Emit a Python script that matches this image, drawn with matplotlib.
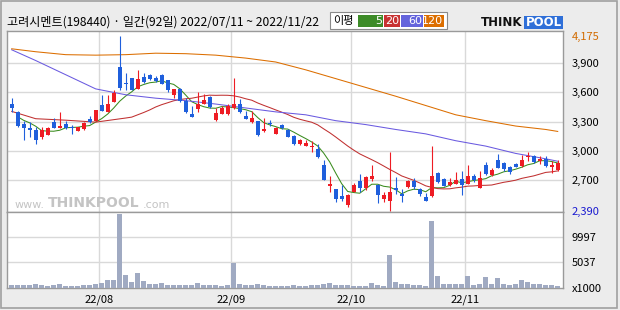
import matplotlib
matplotlib.use('Agg')
import matplotlib.pyplot as plt
from matplotlib.patches import Rectangle
import numpy as np
import pandas as pd

plt.rcParams['font.family'] = ['Noto Sans CJK KR', 'DejaVu Sans']

# 거래일 2022/07/11 ~ 2022/11/22 (휴장일 제외) -> 92일
holidays = ['2022-08-15', '2022-09-09', '2022-09-12', '2022-10-03', '2022-10-10']
dates = pd.bdate_range('2022-07-11', '2022-11-22')
dates = dates[~dates.isin(pd.to_datetime(holidays))]

opens = [3480, 3400, 3280, 3240, 3215, 3140, 3165, 3295, 3240, 3275,
         3250, 3200, 3220, 3330, 3310, 3470, 3400, 3500, 3855, 3700,
         3745, 3635, 3755, 3780, 3745, 3775, 3725, 3575, 3635, 3510,
         3380, 3425, 3480, 3550, 3320, 3380, 3380, 3435, 3480, 3360,
         3295, 3310, 3200, 3290, 3175, 3270, 3215, 3155, 3070, 3055,
         3040, 3020, 2855, 2640, 2610, 2535, 2445, 2585, 2690, 2620,
         2715, 2650, 2510, 2485, 2620, 2565, 2630, 2690, 2610, 2530,
         2535, 2775, 2715, 2650, 2665, 2715, 2665, 2745, 2620, 2855,
         2750, 2910, 2875, 2835, 2870, 2845, 2935, 2950, 2900, 2920,
         2835, 2810]
highs = [3540, 3405, 3305, 3295, 3250, 3250, 3250, 3335, 3400, 3305,
         3270, 3250, 3295, 3355, 3420, 3570, 3570, 3625, 4175, 3800,
         3745, 3825, 3800, 3790, 3770, 3790, 3730, 3635, 3645, 3540,
         3455, 3600, 3585, 3565, 3440, 3455, 3480, 3745, 3535, 3405,
         3405, 3310, 3335, 3315, 3250, 3280, 3225, 3160, 3120, 3110,
         3100, 3070, 2905, 2745, 2610, 2650, 2555, 2670, 2760, 2740,
         2855, 2660, 2585, 2990, 2735, 2615, 2705, 2725, 2620, 2575,
         3050, 2780, 2725, 2720, 2780, 2800, 2855, 2765, 2800, 2885,
         2825, 2970, 2885, 2845, 2875, 2960, 2990, 2955, 2945, 2945,
         2900, 2905]
lows = [3400, 3245, 3115, 3140, 3070, 3125, 3165, 3230, 3230, 3220,
        3175, 3200, 3210, 3285, 3305, 3405, 3400, 3500, 3620, 3625,
        3620, 3635, 3700, 3730, 3710, 3680, 3600, 3540, 3500, 3390,
        3350, 3395, 3480, 3440, 3310, 3380, 3365, 3430, 3385, 3330,
        3285, 3155, 3195, 3260, 3175, 3220, 3140, 3065, 3065, 3050,
        2985, 2930, 2705, 2585, 2480, 2485, 2425, 2580, 2580, 2605,
        2690, 2465, 2480, 2390, 2555, 2475, 2620, 2615, 2535, 2485,
        2525, 2675, 2640, 2645, 2665, 2545, 2660, 2685, 2620, 2750,
        2745, 2825, 2800, 2765, 2835, 2835, 2900, 2880, 2870, 2840,
        2770, 2800]
closes = [3440, 3260, 3240, 3210, 3115, 3215, 3235, 3235, 3260, 3240,
          3235, 3245, 3285, 3295, 3420, 3410, 3480, 3590, 3645, 3685,
          3625, 3735, 3710, 3735, 3720, 3690, 3625, 3635, 3515, 3395,
          3350, 3480, 3525, 3445, 3385, 3435, 3465, 3485, 3395, 3330,
          3335, 3165, 3225, 3280, 3240, 3230, 3145, 3070, 3110, 3080,
          3055, 2940, 2705, 2660, 2510, 2510, 2545, 2650, 2625, 2735,
          2745, 2545, 2545, 2585, 2600, 2535, 2695, 2630, 2565, 2490,
          2745, 2685, 2640, 2685, 2705, 2655, 2745, 2700, 2725, 2760,
          2805, 2825, 2820, 2780, 2840, 2905, 2950, 2885, 2920, 2845,
          2860, 2875]
# 거래량 (x1000)
volume = [400, 400, 400, 400, 600, 400, 200, 400, 600, 200,
          200, 200, 400, 400, 600, 800, 1580, 1580, 14450, 2380,
          1000, 2770, 1190, 600, 600, 800, 400, 400, 400, 400,
          400, 800, 400, 400, 400, 200, 400, 4750, 600, 400,
          400, 600, 400, 200, 200, 200, 200, 400, 200, 200,
          400, 400, 600, 800, 400, 400, 400, 200, 200, 200,
          800, 400, 200, 6340, 1000, 600, 600, 400, 400, 200,
          13070, 2180, 600, 600, 600, 600, 2180, 400, 600, 1980,
          600, 1780, 600, 400, 600, 1390, 1000, 600, 600, 400,
          400, 200]

# 차트에서 읽은 이동평균 (앞 구간 데이터가 화면 밖이라 직접 읽음)
ma20_head_idx = [0, 4, 9, 14]
ma20_head = [3405, 3330, 3315, 3295]
ma_idx = [0, 4, 9, 14, 19, 24, 29, 34, 39, 44, 49, 54, 59, 64, 69, 74, 79, 84, 89, 91]
ma60 = [4035, 3925, 3780, 3635, 3575, 3540, 3515, 3480, 3440, 3400,
        3370, 3310, 3270, 3220, 3175, 3105, 3050, 2975, 2920, 2895]
ma120 = [4045, 4015, 3985, 3980, 3985, 4000, 3995, 3980, 3950, 3910,
         3830, 3740, 3650, 3560, 3465, 3370, 3310, 3255, 3220, 3200]

price_ticks = [2390, 2700, 3000, 3300, 3600, 3900, 4175]
grid_prices = [2700, 3000, 3300, 3600, 3900]
vol_ticks = [0, 5037, 9997]

RED = '#ee1c24'
BLUE = '#1f5fdc'
W, H = 620, 310


def fx(px):
    return px / W


def fy(py):
    return 1 - py / H


fig = plt.figure(figsize=(6.2, 3.1), dpi=100)
fig.patch.set_facecolor('#ececec')

ax = fig.add_axes([fx(7), fy(212), (563 - 7) / W, (212 - 31) / H])
axv = fig.add_axes([fx(7), fy(287.5), (563 - 7) / W, (287.5 - 212) / H], sharex=ax)

x = np.arange(len(closes))
o, h, l, c = map(np.array, (opens, highs, lows, closes))
col = np.where(c >= o, RED, BLUE)

# 이동평균선
s = pd.Series(closes)
ma5 = s.rolling(5, min_periods=2).mean()
ma20 = s.rolling(20).mean()
ax.plot(x[1:], ma5[1:], color='#3a8c1e', lw=0.75, zorder=2)
ax.plot(ma20_head_idx + list(x[19:]), ma20_head + list(ma20[19:]), color='#c03030', lw=0.75, zorder=2)
ax.plot(ma_idx, ma60, color='#6a5ae0', lw=0.75, zorder=2)
ax.plot(ma_idx, ma120, color='#dc6e00', lw=0.75, zorder=2)

# 캔들
ax.vlines(x, l, h, colors=col, lw=0.8, zorder=3)
ax.bar(x, np.maximum(np.abs(c - o), 8), bottom=np.minimum(o, c), width=0.72,
       color=col, lw=0, zorder=4)

# 거래량
axv.bar(x, volume, width=0.82, color='#a0aac2', lw=0, zorder=3)

# 월 구분
month_first = [i for i in range(1, len(dates)) if dates[i].month != dates[i - 1].month]
month_pos = [i - 0.5 for i in month_first]
month_lbl = [dates[i].strftime('%y/%m') for i in month_first]

for v in grid_prices:
    ax.axhline(v, color='#d9d9d9', lw=1, zorder=1)
for v in vol_ticks[1:]:
    axv.axhline(v, color='#d9d9d9', lw=1, zorder=1)
for p in month_pos:
    ax.axvline(p, color='#d9d9d9', lw=1, zorder=1)
    axv.axvline(p, color='#d9d9d9', lw=1, zorder=1)

ax.set_xlim(-0.78, 91.88)
ax.set_ylim(2376, 4227)
axv.set_ylim(0, 14920)

for a in (ax, axv):
    a.set_facecolor('white')
    a.yaxis.tick_right()
    for sp in a.spines.values():
        sp.set_color('#9a9a9a')
        sp.set_linewidth(1)

ax.set_yticks(price_ticks)
ax.set_yticklabels([f'{v:,}' for v in price_ticks])
ax.tick_params(axis='y', length=0, pad=6, labelsize=8)
ax.tick_params(axis='x', bottom=False, labelbottom=False)
for lbl, v in zip(ax.get_yticklabels(), price_ticks):
    if v == max(highs):
        lbl.set_color('#d26b00')
    elif v == min(lows):
        lbl.set_color('#1a1ad0')

axv.set_yticks(vol_ticks)
axv.set_yticklabels(['x1000'] + [str(v) for v in vol_ticks[1:]])
axv.tick_params(axis='y', length=0, pad=6, labelsize=8)
axv.set_xticks(month_pos)
axv.set_xticklabels(month_lbl)
axv.tick_params(axis='x', length=0, pad=5, labelsize=8)

# 제목
fig.text(fx(7), fy(22), '고려시멘트(198440) · 일간(92일) 2022/07/11 ~ 2022/11/22',
         fontsize=8.7, va='center', ha='left')

# 이평 범례
fig.patches.append(Rectangle((fx(330), fy(29)), 117 / W, 17 / H, transform=fig.transFigure,
                             facecolor='white', edgecolor='#8a8a8a', lw=0.8))
fig.text(fx(333), fy(21), '이평', fontsize=8, va='center', ha='left')
legend_items = [('5', '#3d8b28', 358, 383), ('20', '#c83232', 384, 400),
                ('60', '#6464dc', 401, 423), ('120', '#dc6e00', 424, 444)]
for name, colr, x0, x1 in legend_items:
    fig.patches.append(Rectangle((fx(x0), fy(27)), (x1 - x0) / W, 12 / H,
                                 transform=fig.transFigure, facecolor=colr, lw=0))
    fig.text(fx(x1 - 1), fy(21), name, fontsize=8, color='white', va='center',
             ha='right', family='DejaVu Sans')

# 로고
fig.text(fx(481), fy(22.5), 'THINK', fontsize=8.5, fontweight='bold', va='center',
         ha='left', family='DejaVu Sans', color='#111111')
fig.patches.append(Rectangle((fx(524), fy(29)), 39 / W, 13 / H, transform=fig.transFigure,
                             facecolor='#2f6fd8', lw=0))
fig.text(fx(543.5), fy(22.5), 'POOL', fontsize=8.5, fontweight='bold', va='center',
         ha='center', family='DejaVu Sans', color='white')

# 워터마크
fig.text(fx(45), fy(205), 'www.', fontsize=8, va='center', ha='right',
         family='DejaVu Sans', color='#c4c4c4')
fig.text(fx(48), fy(203), 'THINKPOOL', fontsize=10, fontweight='bold', va='center',
         ha='left', family='DejaVu Sans', color='#c4c4c4')
fig.text(fx(143), fy(205), '.com', fontsize=8, va='center', ha='left',
         family='DejaVu Sans', color='#c4c4c4')

# 외곽 테두리
fig.patches.append(Rectangle((fx(1), fy(308)), 616 / W, 307 / H, transform=fig.transFigure,
                             facecolor='none', edgecolor='#a0a0a0', lw=1.2))

fig.savefig('out.png', dpi=100, facecolor=fig.get_facecolor())
